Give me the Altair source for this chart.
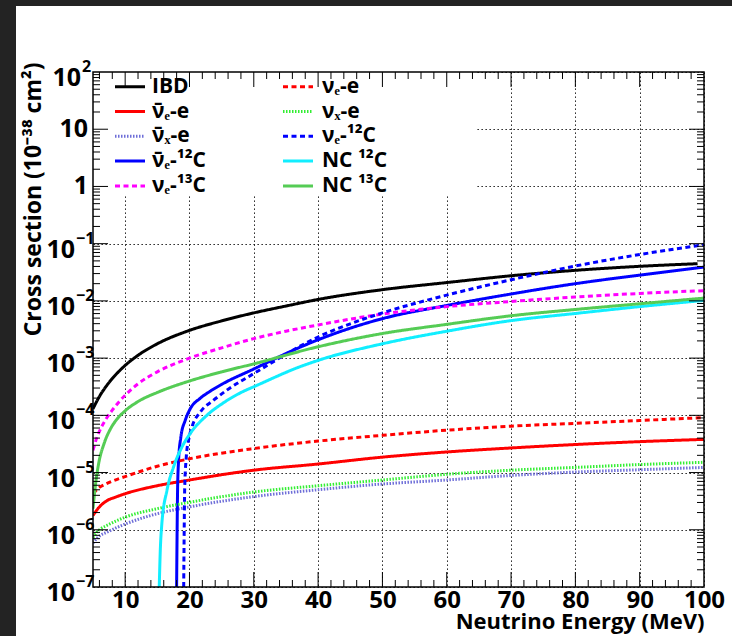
import altair as alt
import pandas as pd

FONT = "Open Sans"
W, H = 611, 515

# ---------------- data ----------------
SERIES = ["IBD", "nuebar_e", "nuxbar_e", "nuebar_12C", "nue_13C",
          "nue_e", "nux_e", "nue_12C", "NC_12C", "NC_13C"]
LABELS = ["IBD", "\u03bd\u0304\u2091-e", "\u03bd\u0304\u2093-e", "\u03bd\u0304\u2091-\u00b9\u00b2C", "\u03bd\u2091-\u00b9\u00b3C",
          "\u03bd\u2091-e", "\u03bd\u2093-e", "\u03bd\u2091-\u00b9\u00b2C", "NC  \u00b9\u00b2C", "NC  \u00b9\u00b3C"]
COLORS = ["#000000", "#ff0000", "#6e6ed8", "#0000ff", "#ff00ff",
          "#ff0000", "#33ee33", "#0000ff", "#11eeff", "#55cc55"]
SOLID, DASH, DOT = [1, 0], [5, 3.5], [1.5, 1.5]
DASHES = [SOLID, SOLID, DOT, SOLID, DASH, DASH, DOT, DASH, SOLID, SOLID]

E_IBD = [5, 6, 7, 8, 9, 10, 12, 15, 20, 25, 30, 35, 40, 50, 60, 70, 80, 90, 99]
S_IBD = [1.30e-4, 2.14e-4, 3.16e-4, 4.40e-4, 5.82e-4, 7.46e-4, 1.12e-3, 1.78e-3, 3.05e-3,
         4.47e-3, 6.17e-3, 8.13e-3, 1.06e-2, 1.57e-2, 2.09e-2, 2.75e-2, 3.42e-2, 4.02e-2,
         4.47e-2]

E_NUE13C = [5, 5.5, 6, 7, 8, 9, 10, 12, 15, 20, 25, 30, 35, 40, 50, 60, 70, 80, 90, 100]
S_NUE13C = [2.45e-5, 3.80e-5, 5.25e-5, 8.51e-5, 1.23e-4, 1.70e-4, 2.24e-4, 3.55e-4, 5.75e-4,
            1.00e-3, 1.51e-3, 2.19e-3, 2.95e-3, 3.80e-3, 5.89e-3, 7.94e-3, 9.77e-3, 1.17e-2,
            1.35e-2, 1.51e-2]

E_NC13C = [5, 5.4, 5.9, 6.7, 7.7, 8.7, 10, 12.3, 15, 20, 25, 30, 40, 50, 60, 70, 80, 90, 100]
S_NC13C = [2.34e-6, 6.31e-6, 1.48e-5, 3.16e-5, 5.75e-5, 8.51e-5, 1.20e-4, 1.82e-4, 2.51e-4,
           3.98e-4, 5.75e-4, 7.94e-4, 1.58e-3, 2.69e-3, 3.89e-3, 5.50e-3, 7.08e-3, 8.91e-3,
           1.12e-2]

E_NC12C = [15.3, 15.45, 15.7, 16.5, 17.5, 18.8, 20.1, 22.7, 25.3, 28.4, 30, 37.2, 40, 50, 60,
           70, 80, 90, 100]
S_NC12C = [1.0e-7, 3.98e-7, 1.26e-6, 4.90e-6, 1.23e-5, 2.75e-5, 4.79e-5, 1.00e-4, 1.66e-4,
           2.63e-4, 3.16e-4, 7.08e-4, 9.12e-4, 1.78e-3, 2.95e-3, 4.52e-3, 6.03e-3, 7.94e-3,
           1.02e-2]

E_NUEBAR12C = [18.0, 18.08, 18.15, 18.3, 18.66, 19.33, 20.1, 21.7, 23.2, 25, 30, 37.2, 40, 50,
               60, 70, 80, 90, 100]
S_NUEBAR12C = [1.0e-7, 1.0e-6, 4.90e-6, 1.58e-5, 4.17e-5, 8.13e-5, 1.29e-4, 2.00e-4, 2.63e-4,
               3.47e-4, 6.46e-4, 1.55e-3, 2.09e-3, 4.90e-3, 8.32e-3, 1.32e-2, 2.00e-2, 2.82e-2,
               3.89e-2]

E_NUE12C = [19.1, 19.18, 19.25, 19.5, 19.85, 20.4, 21.7, 23.7, 25.8, 30, 35, 37.2, 40, 45, 50,
            60, 70, 80, 90, 100]
S_NUE12C = [1.0e-7, 1.0e-6, 4.90e-6, 1.86e-5, 3.63e-5, 6.31e-5, 1.15e-4, 1.82e-4, 2.75e-4,
            5.37e-4, 1.17e-3, 1.62e-3, 2.34e-3, 3.98e-3, 6.17e-3, 1.26e-2, 2.34e-2, 4.07e-2,
            6.46e-2, 9.55e-2]

E_NUE_E = [5, 6, 7, 8, 10, 15, 20, 30, 40, 50, 60, 70, 80, 90, 100]
S_NUE_E = [4.27e-6, 5.50e-6, 6.31e-6, 7.08e-6, 8.51e-6, 1.29e-5, 1.74e-5, 2.63e-5, 3.55e-5,
           4.47e-5, 5.50e-5, 6.46e-5, 7.24e-5, 8.13e-5, 9.12e-5]

E_ELASTIC = [5, 6, 7.2, 8.5, 10, 15, 20, 30, 40, 50, 60, 70, 80, 90, 100]
S_NUEBAR_E = [1.78e-6, 2.51e-6, 3.24e-6, 3.72e-6, 4.27e-6, 5.89e-6, 7.41e-6, 1.10e-5, 1.41e-5,
              1.86e-5, 2.29e-5, 2.69e-5, 3.09e-5, 3.47e-5, 3.80e-5]
S_NUX_E = [7.41e-7, 1.00e-6, 1.20e-6, 1.41e-6, 1.66e-6, 2.34e-6, 3.02e-6, 4.57e-6, 5.89e-6,
           7.41e-6, 9.33e-6, 1.10e-5, 1.23e-5, 1.38e-5, 1.51e-5]
S_NUXBAR_E = [5.89e-7, 7.76e-7, 9.12e-7, 1.07e-6, 1.26e-6, 1.91e-6, 2.51e-6, 3.80e-6, 5.01e-6,
              6.31e-6, 7.41e-6, 8.91e-6, 1.02e-5, 1.12e-5, 1.23e-5]

CURVES = {
    "IBD": (E_IBD, S_IBD),
    "nuebar_e": (E_ELASTIC, S_NUEBAR_E),
    "nuxbar_e": (E_ELASTIC, S_NUXBAR_E),
    "nuebar_12C": (E_NUEBAR12C, S_NUEBAR12C),
    "nue_13C": (E_NUE13C, S_NUE13C),
    "nue_e": (E_NUE_E, S_NUE_E),
    "nux_e": (E_ELASTIC, S_NUX_E),
    "nue_12C": (E_NUE12C, S_NUE12C),
    "NC_12C": (E_NC12C, S_NC12C),
    "NC_13C": (E_NC13C, S_NC13C),
}

X_TICKS = [10, 20, 30, 40, 50, 60, 70, 80, 90, 100]
X_MINOR = [v for v in range(6, 100, 2) if v % 10 != 0]
Y_TICKS = [1e-7, 1e-6, 1e-5, 1e-4, 1e-3, 1e-2, 1e-1, 1, 10, 100]
Y_BASE = ["10", "10", "10", "10", "10", "10", "10", "1", "10", "10"]
Y_SUP = ["\u22127", "\u22126", "\u22125", "\u22124", "\u22123", "\u22122", "\u22121", "", "", "2"]
Y_MINOR = [m * d for d in [1e-7, 1e-6, 1e-5, 1e-4, 1e-3, 1e-2, 1e-1, 1, 10] for m in range(2, 10)]

# ---------------- build ----------------
rows = []
for s in SERIES:
    es, vs = CURVES[s]
    for e, v in zip(es, vs):
        rows.append({"series": s, "E": e, "sigma": v})
df = pd.DataFrame(rows)

xs = alt.Scale(domain=[5, 100], nice=False, zero=False)
ys = alt.Scale(type="log", domain=[1e-7, 1e2], nice=False)

xaxis = alt.Axis(values=X_TICKS, format="d", title="Neutrino Energy (MeV)",
                 labelFont=FONT, labelFontSize=24, labelFontWeight="bold", labelColor="black",
                 labelPadding=1, labelOverlap=False, labelFlush=False,
                 ticks=False, domain=False, grid=True, gridColor="black", gridDash=[1.3, 2.7],
                 gridWidth=1, gridOpacity=1,
                 titleFont=FONT, titleFontSize=22, titleFontWeight="bold", titleColor="black",
                 titleAlign="right", titleBaseline="alphabetic", titleX=W, titleY=41)
yaxis = alt.Axis(values=Y_TICKS, labels=False, ticks=False, domain=False, grid=True,
                 gridColor="black", gridDash=[1.3, 2.7], gridWidth=1, gridOpacity=1,
                 title="Cross section (10\u207b\u00b3\u2078 cm\u00b2)",
                 titleFont=FONT, titleFontSize=23, titleFontWeight="bold", titleColor="black",
                 titleAngle=270, titleAlign="right", titleBaseline="bottom",
                 titleX=-48, titleY=-10)


def X(field):
    return alt.X(field, scale=xs, axis=xaxis)


def Y(field):
    return alt.Y(field, scale=ys, axis=yaxis)


one = pd.DataFrame({"k": [0]})
layers = []

curves = alt.Chart(df).mark_line(strokeWidth=3, clip=True, interpolate="monotone").encode(
    x=X("E:Q"),
    y=Y("sigma:Q"),
    color=alt.Color("series:N", scale=alt.Scale(domain=SERIES, range=COLORS), legend=None),
    strokeDash=alt.StrokeDash("series:N", scale=alt.Scale(domain=SERIES, range=DASHES), legend=None),
    detail="series:N",
)
layers.append(curves)

# legend backdrop (hides the grid behind it)
layers.append(alt.Chart(one).mark_rect(color="white").encode(
    x=alt.value(0), x2=alt.value(382), y=alt.value(0), y2=alt.value(124)))

# inward ticks
xmaj = pd.DataFrame({"E": X_TICKS[:-1]})
xmin = pd.DataFrame({"E": X_MINOR})
ymaj = pd.DataFrame({"sigma": Y_TICKS[1:-1]})
ymin = pd.DataFrame({"sigma": Y_MINOR})
for d, L in [(xmaj, 15), (xmin, 7)]:
    layers.append(alt.Chart(d).mark_rule(color="black", strokeWidth=1).encode(
        x=X("E:Q"), y=alt.value(H), y2=alt.value(H - L)))
    layers.append(alt.Chart(d).mark_rule(color="black", strokeWidth=1).encode(
        x=X("E:Q"), y=alt.value(0), y2=alt.value(L)))
for d, L in [(ymaj, 15), (ymin, 7)]:
    layers.append(alt.Chart(d).mark_rule(color="black", strokeWidth=1).encode(
        y=Y("sigma:Q"), x=alt.value(0), x2=alt.value(L)))
    layers.append(alt.Chart(d).mark_rule(color="black", strokeWidth=1).encode(
        y=Y("sigma:Q"), x=alt.value(W), x2=alt.value(W - L)))

# y tick labels with superscripts
ydf = pd.DataFrame({"sigma": Y_TICKS, "base": Y_BASE, "sup": Y_SUP})
ydf["g"] = ydf["sup"].str.len()
for g, xo in [(2, -18), (1, -12), (0, -5)]:
    layers.append(alt.Chart(ydf).transform_filter(alt.datum.g == g).mark_text(
        align="right", baseline="middle", dy=(6 if g else 0), font=FONT, fontSize=25,
        fontWeight="bold", color="black").encode(
        y=Y("sigma:Q"), x=alt.value(xo), text="base:N"))
    if g:
        layers.append(alt.Chart(ydf).transform_filter(alt.datum.g == g).mark_text(
            align="left", baseline="middle", dy=-5, font=FONT, fontSize=16,
            fontWeight="bold", color="black").encode(
            y=Y("sigma:Q"), x=alt.value(xo + 1), text="sup:N"))

# legend entries
ROW_Y = [14.7, 39.5, 64.3, 89.1, 113.9]
COL_LINE = [(22, 52), (190, 220)]
COL_TEXT = [59, 229]
for i, s in enumerate(SERIES):
    c, r = divmod(i, 5)
    ld = pd.DataFrame({"label": [LABELS[i]]})
    layers.append(alt.Chart(ld).mark_rule(strokeWidth=3, color=COLORS[i],
                                          strokeDash=DASHES[i]).encode(
        x=alt.value(COL_LINE[c][0]), x2=alt.value(COL_LINE[c][1]), y=alt.value(ROW_Y[r])))
    layers.append(alt.Chart(ld).mark_text(align="left", baseline="middle", font=FONT,
                                          fontSize=21, fontWeight="bold", color="black").encode(
        x=alt.value(COL_TEXT[c]), y=alt.value(ROW_Y[r]), text="label:N"))

# dark window edges
layers.append(alt.Chart(one).mark_rect(color="#232323").encode(
    x=alt.value(-93), x2=alt.value(-77), y=alt.value(-72), y2=alt.value(H + 49)))
layers.append(alt.Chart(one).mark_rect(color="#232323").encode(
    x=alt.value(-93), x2=alt.value(W + 28), y=alt.value(-72), y2=alt.value(-66)))

# frame
layers.append(alt.Chart(one).mark_rect(filled=False, stroke="black", strokeWidth=1.5).encode(
    x=alt.value(0), x2=alt.value(W), y=alt.value(0), y2=alt.value(H)))

chart = alt.layer(*layers).properties(
    width=W, height=H,
    padding={"left": 93, "top": 72, "right": 28, "bottom": 49},
    autosize=alt.AutoSizeParams(type="none"),
    background="white",
).configure_view(stroke=None)

chart.save("out.html", embed_options={"renderer": "svg", "actions": False})
